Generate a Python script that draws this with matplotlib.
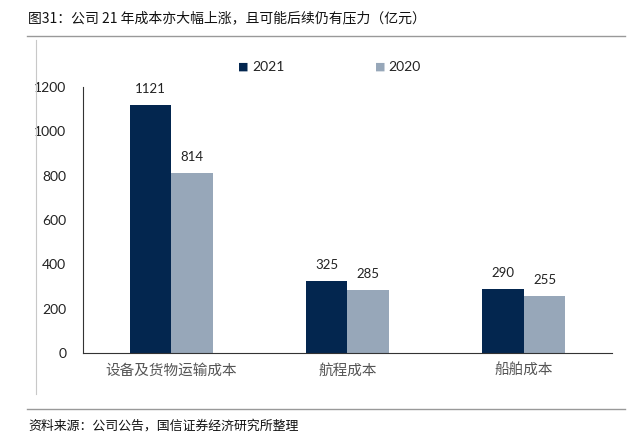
import numpy as np
import matplotlib.pyplot as plt
from matplotlib.lines import Line2D

plt.rcParams['font.family'] = ['Noto Sans CJK SC', 'DejaVu Sans']

categories = ['设备及货物运输成本', '航程成本', '船舶成本']
v2021 = [1121, 325, 290]
v2020 = [814, 285, 255]
yticks = [0, 200, 400, 600, 800, 1000, 1200]

c_dark = '#03264f'
c_light = '#97a7b9'

fig = plt.figure(figsize=(6.42, 4.41), dpi=100)
ax = fig.add_axes([83/642, 1-353/441, (612-83)/642, (353-87)/441])

x = np.arange(len(categories))
w = 0.235
b1 = ax.bar(x - w/2, v2021, w, color=c_dark, label='2021')
b2 = ax.bar(x + w/2, v2020, w, color=c_light, label='2020')

for bars, vals in ((b1, v2021), (b2, v2020)):
    for r, v in zip(bars, vals):
        ax.text(r.get_x() + r.get_width()/2, v + 45, str(v), ha='center', va='bottom',
                fontsize=9.5, family='Lato', color='#222222')

ax.set_xlim(-0.5, 2.5)
ax.set_ylim(0, 1200)
ax.set_yticks(yticks)
ax.set_yticklabels([str(t) for t in yticks], family='Lato', fontsize=10, color='#222222')
ax.tick_params(axis='y', length=0, pad=12)
ax.set_xticks(x)
ax.set_xticklabels(categories, fontsize=10.5, color='#555555')
ax.tick_params(axis='x', length=0, pad=8)
for s in ('top', 'right'):
    ax.spines[s].set_visible(False)
ax.spines['left'].set_color('#333333')
ax.spines['bottom'].set_color('#333333')

# legend
fig.text(243/642, 1-67/441, '■', color=c_dark, fontsize=8, ha='center', va='center', family='DejaVu Sans')
fig.text(252/642, 1-67/441, '2021', fontsize=10, ha='left', va='center', family='Lato', color='#222222')
fig.text(380/642, 1-67/441, '■', color=c_light, fontsize=8, ha='center', va='center', family='DejaVu Sans')
fig.text(388/642, 1-67/441, '2020', fontsize=10, ha='left', va='center', family='Lato', color='#222222')

# title and frame lines
fig.text(28/642, 1-18/441, '图31：公司 21 年成本亦大幅上涨，且可能后续仍有压力（亿元）', fontsize=10,
         ha='left', va='center', color='#111111')
fig.add_artist(Line2D([27/642, 625/642], [1-36/441, 1-36/441], color='#999999', lw=1))
fig.add_artist(Line2D([36/642, 36/642], [1-40/441, 1-394/441], color='#c8c8c8', lw=0.8))
fig.add_artist(Line2D([27/642, 625/642], [1-409/441, 1-409/441], color='#999999', lw=1))
fig.text(28/642, 1-426/441, '资料来源：公司公告，国信证券经济研究所整理', fontsize=9.3,
         ha='left', va='center', color='#111111')

fig.savefig('out.png', dpi=100)
